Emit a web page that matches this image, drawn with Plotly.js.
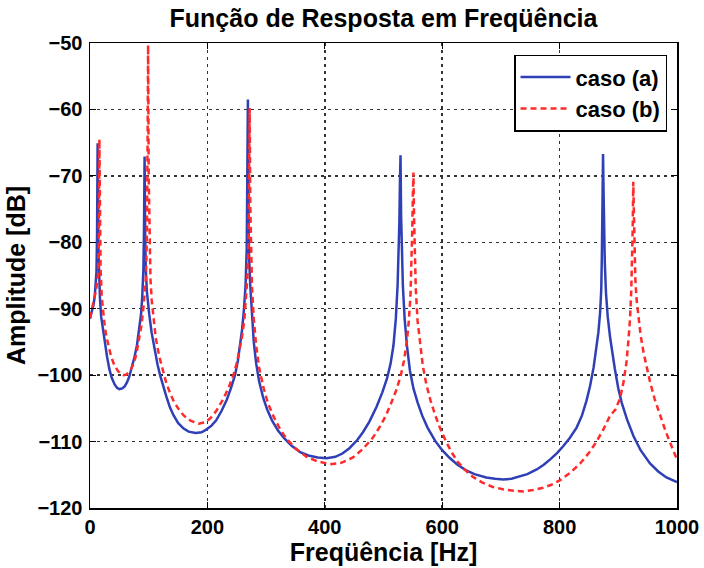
<!DOCTYPE html>
<html>
<head>
<meta charset="utf-8">
<script src="https://cdn.plot.ly/plotly-3.0.1.min.js"></script>
<style>html,body{margin:0;padding:0;background:#fff;}#chart{width:704px;height:568px;}</style>
</head>
<body>
<div id="chart"></div>
<script>
// caso (a)
const freqA = [0,3,6,8,10,11,12,13,14,15,17,19,22,25,29,33,37,42,46,50,55,59,63,67,71,76,80,84,87,89,91,92,93,94,95,97,99,101,105,110,115,120,125,130,136,142,150,159,168,180,190,198,207,215,224,233,240,247,252,256,259,262,265,267,268,269,270,271,273,276,279,283,288,295,302,310,320,330,343,358,372,388,403,418,430,442,455,465,476,488,498,506,512,517,521,524,526,527,528,529,530,531,533,536,540,545,551,558,566,575,588,600,612,625,640,655,675,690,704,718,730,745,761,773,785,796,806,817,829,838,846,852,858,862,866,869,871,872,873,874,875,876,877,879,882,886,890,894,900,906,915,926,938,954,968,982,1000];
const ampA  = [-91.5,-90.6,-89.4,-88.2,-86.3,-84.5,-79,-65.1,-80,-84.5,-88.5,-91.2,-93.2,-94.9,-97.2,-99.1,-100.4,-101.4,-101.9,-102.1,-102.0,-101.7,-101.1,-100.2,-99.0,-97.2,-95.5,-93.2,-90.8,-88.2,-84,-78,-67.1,-79,-84,-87.5,-89.5,-90.9,-93.6,-96.2,-98.4,-100.2,-101.8,-103.2,-104.8,-106.0,-107.2,-108.0,-108.5,-108.7,-108.6,-108.2,-107.6,-106.8,-105.4,-103.7,-102.0,-100.0,-97.8,-95.5,-93.2,-90.4,-86.5,-81,-73,-58.5,-75,-82,-86.5,-91.5,-95,-98.2,-100.9,-103.4,-105.2,-106.8,-108.3,-109.4,-110.6,-111.6,-112.1,-112.4,-112.5,-112.3,-111.8,-111.0,-109.8,-108.6,-107.0,-104.8,-102.6,-100.5,-98.3,-95.5,-91.5,-86.5,-81,-77,-71,-66.9,-76,-81,-86.5,-91.5,-95.6,-99.3,-102.0,-104.1,-106.1,-107.9,-109.9,-111.3,-112.4,-113.4,-114.3,-114.9,-115.4,-115.6,-115.7,-115.6,-115.3,-114.9,-114.2,-113.5,-112.6,-111.7,-110.7,-109.5,-107.9,-106.1,-103.8,-101.6,-98.8,-96.5,-93.6,-90.6,-87,-82,-76,-66.7,-73,-79,-83,-87.6,-91.2,-94.3,-96.8,-99.0,-102.0,-104.2,-106.7,-109.2,-111.3,-113.3,-114.5,-115.4,-116.1];
// caso (b)
const freqB = [0,4,8,11,13.5,15,16,17,18,20,22,25,28,32,36,41,47,52,57,62,66,70,75,79,84,88,91,93,95,96,97,98,99,100,101,102,103,105,108,112,118,124,130,136,142,150,160,172,185,196,205,215,227,236,244,250,255,259,263,266,268,270,271,272,273,274,276,279,283,288,295,303,312,323,335,350,369,388,409,428,448,465,482,495,505,514,522,529,535,540,543,546,548,549,550,551,552,553,555,558,562,567,573,580,588,596,606,616,626,638,652,667,685,705,722,738,755,770,786,801,818,835,850,863,875,886,895,903,909,914,917,920,922,923.5,924.5,925.5,926.5,927.5,929,931,934,938,943,948,954,962,971,980,988,994,1000];
const ampB  = [-91.4,-89.9,-88.3,-86.9,-85,-80,-64.5,-78,-84,-88.2,-90.5,-92.6,-94.2,-95.9,-97.2,-98.4,-99.3,-99.8,-100.0,-99.9,-99.6,-99.1,-98.1,-96.8,-94.6,-92.3,-89.8,-88,-85.5,-83,-78,-66,-50.3,-70,-78,-82,-85.5,-88.6,-91.6,-94.4,-97.2,-99.4,-101.2,-102.6,-103.8,-105.0,-106.1,-106.9,-107.3,-107.1,-106.5,-105.4,-103.6,-101.9,-100.1,-98.2,-96.2,-94.2,-91.6,-88.4,-85.5,-80,-73,-59.8,-74,-81,-86.8,-91.5,-95.5,-98.8,-101.7,-104.2,-106.1,-108.0,-109.6,-111.0,-112.3,-113.0,-113.4,-113.2,-112.4,-111.1,-109.4,-107.6,-105.9,-104.0,-102.2,-100.2,-97.8,-94.8,-92.0,-88.0,-83,-78,-73,-69.5,-76,-81,-87,-91.8,-95.3,-98.6,-101.4,-103.8,-106.0,-107.9,-109.9,-111.6,-113.0,-114.2,-115.3,-116.1,-116.8,-117.2,-117.4,-117.5,-117.3,-117.0,-116.5,-115.8,-114.7,-113.3,-111.7,-110.0,-108.1,-106.1,-105.2,-103.5,-101.0,-98.0,-95.0,-91.5,-87.5,-83,-78,-70.9,-76,-81,-85.5,-88.5,-91.3,-94.0,-96.6,-98.8,-101.0,-103.6,-106.1,-108.3,-110.1,-111.4,-112.7];
const seriesNames = ['caso (a)', 'caso (b)'];
const titleText = 'Função de Resposta em Freqüência';
const xTitle = 'Freqüência [Hz]';
const yTitle = 'Amplitude [dB]';
const xTicks = [0,200,400,600,800,1000];
const yTicks = [-120,-110,-100,-90,-80,-70,-60,-50];

const FONT = 'Liberation Sans, Arial, Helvetica, sans-serif';
const traces = [
  {x: freqA, y: ampA, name: seriesNames[0], mode: 'lines', line: {color: '#2f40b6', width: 2.5}},
  {x: freqB, y: ampB, name: seriesNames[1], mode: 'lines', line: {color: '#ff2a2a', width: 2.5, dash: '6px,4px'}}
];
const axisCommon = {
  showline: true, linecolor: '#000', linewidth: 1.5, mirror: 'ticks',
  ticks: 'inside', ticklen: 6, tickcolor: '#000', tickwidth: 1,
  showgrid: true, gridcolor: '#333', gridwidth: 1.5, griddash: '3px,4px',
  zeroline: false, tickfont: {family: FONT, size: 20, color: '#000', weight: 'bold'}
};
const layout = {
  width: 704, height: 568,
  margin: {l: 90, r: 27, t: 43, b: 60},
  paper_bgcolor: '#fff', plot_bgcolor: '#fff',
  font: {family: FONT, color: '#000', weight: 'bold'},
  title: {text: titleText, x: 0.5, xref: 'paper', y: 0.968, yref: 'container', yanchor: 'middle',
          font: {family: FONT, size: 25, color: '#000', weight: 'bold'}},
  xaxis: Object.assign({}, axisCommon, {range: [0, 1000], tickvals: xTicks,
          title: {text: xTitle, standoff: 2, font: {family: FONT, size: 25, color: '#000', weight: 'bold'}}}),
  yaxis: Object.assign({}, axisCommon, {range: [-120, -50], tickvals: yTicks, ticklabelstandoff: 2,
          title: {text: yTitle, standoff: 4, font: {family: FONT, size: 25, color: '#000', weight: 'bold'}}}),
  legend: {x: 0.983, xanchor: 'right', y: 0.975, yanchor: 'top', bgcolor: '#fff', bordercolor: '#000', borderwidth: 1.5,
           font: {family: FONT, size: 22, color: '#000', weight: 'bold'}, tracegroupgap: 0, itemwidth: 50},
  showlegend: true
};
Plotly.newPlot('chart', traces, layout, {staticPlot: true, displayModeBar: false});
</script>
</body>
</html>
